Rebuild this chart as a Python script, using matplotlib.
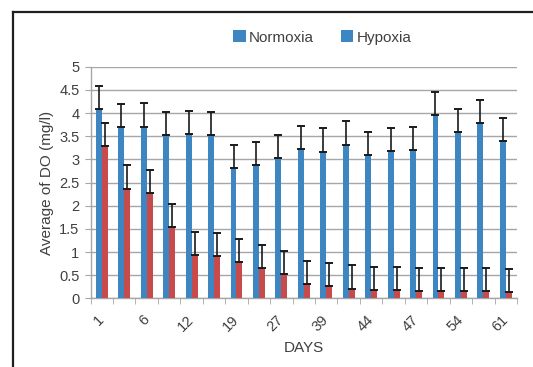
import matplotlib
matplotlib.use("Agg")
import matplotlib.pyplot as plt
from matplotlib.patches import Patch
from matplotlib.lines import Line2D
import numpy as np

plt.rcParams['font.family'] = ['Liberation Sans Narrow', 'Liberation Sans', 'DejaVu Sans']

# Mean dissolved oxygen per sampling day (19 sampling points)
normoxia = [4.08, 3.69, 3.71, 3.52, 3.55, 3.53, 2.82, 2.88, 3.02, 3.22,
            3.17, 3.32, 3.09, 3.18, 3.20, 3.96, 3.59, 3.79, 3.40]
hypoxia = [3.29, 2.37, 2.27, 1.54, 0.93, 0.91, 0.78, 0.65, 0.53, 0.31,
           0.27, 0.21, 0.18, 0.17, 0.16, 0.15, 0.15, 0.16, 0.14]
normoxia_err = [0.5] * 19
hypoxia_err = [0.5] * 19
day_labels = ['1', '6', '12', '19', '27', '39', '44', '47', '54', '61']

blue = '#3E86C1'
red = '#C84B4B'
grid_col = '#A6A6A6'

fig = plt.figure(figsize=(5.33, 3.67), dpi=100)
ax = fig.add_axes([0.170, 0.187, 0.800, 0.631])

x = np.arange(len(normoxia))
w = 0.265
ax.bar(x - w / 2, normoxia, width=w, color=blue, zorder=3)
ax.bar(x + w / 2, hypoxia, width=w, color=red, zorder=3)
ax.errorbar(x - w / 2, normoxia, yerr=[np.zeros(len(x)), normoxia_err],
            fmt='none', ecolor='#1a1a1a', elinewidth=1.2, capsize=3, capthick=1.4, zorder=4)
ax.errorbar(x + w / 2, hypoxia, yerr=[np.zeros(len(x)), hypoxia_err],
            fmt='none', ecolor='#1a1a1a', elinewidth=1.2, capsize=3, capthick=1.4, zorder=4)

ax.set_xlim(-0.5, len(x) - 0.5)
ax.set_ylim(0, 5)
ax.set_yticks(np.arange(0, 5.01, 0.5))
ax.set_yticklabels(['0', '0.5', '1', '1.5', '2', '2.5', '3', '3.5', '4', '4.5', '5'])
ax.yaxis.grid(True, color=grid_col, lw=1.0, zorder=0)
ax.set_axisbelow(True)

ax.set_xticks(x[::2])
ax.set_xticklabels(day_labels, rotation=45, ha='right', va='center',
                   rotation_mode='anchor')
ax.set_xticks(np.arange(-0.5, len(x), 1.0), minor=True)
ax.tick_params(axis='x', which='major', length=0, pad=14, labelsize=10.5, labelcolor='#404040')
ax.tick_params(axis='x', which='minor', length=4, color=grid_col, direction='out')
ax.tick_params(axis='y', length=4, color=grid_col, labelsize=10.5, labelcolor='#404040', pad=4)

for s in ['top', 'right']:
    ax.spines[s].set_visible(False)
for s in ['left', 'bottom']:
    ax.spines[s].set_color(grid_col)
    ax.spines[s].set_linewidth(1.0)

ax.set_xlabel('DAYS', fontsize=11, color='#404040', labelpad=4)
ax.set_ylabel('Average of DO (mg/l)', fontsize=11, color='#404040', labelpad=-2)
ax.yaxis.set_label_coords(-0.085, 0.5)
ax.xaxis.set_label_coords(0.5, -0.185)

handles = [Patch(facecolor=blue), Patch(facecolor=blue)]
fig.legend(handles, ['Normoxia', 'Hypoxia'], ncol=2, frameon=False,
           loc='center', bbox_to_anchor=(0.605, 0.898), fontsize=11,
           handlelength=0.8, handleheight=0.8, handletextpad=0.2, columnspacing=1.8,
           labelcolor='#404040')

# Outer frame
fy = 1 - 12 / 367
fx = 13 / 533
fig.add_artist(Line2D([fx, 1.0], [fy, fy], transform=fig.transFigure, color='#1f1f1f', lw=1.6))
fig.add_artist(Line2D([fx, fx], [0.0, fy], transform=fig.transFigure, color='#1f1f1f', lw=1.6))

fig.savefig('out.png', dpi=100)
